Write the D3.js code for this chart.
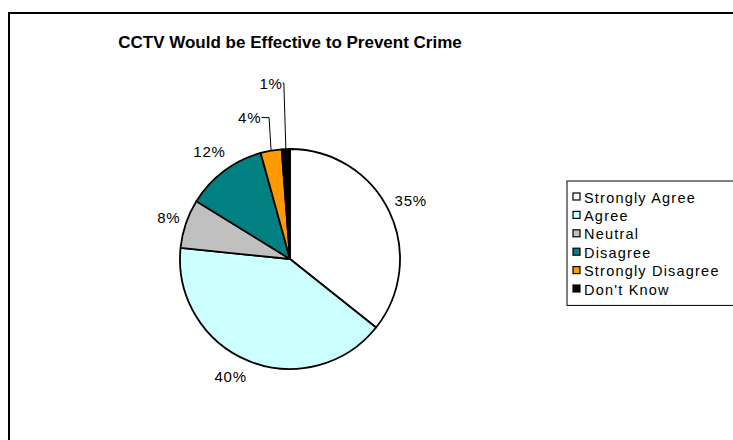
<!DOCTYPE html>
<html>
<head>
<meta charset="utf-8">
<script src="https://cdn.jsdelivr.net/npm/d3@7"></script>
<style>
  html, body { margin: 0; padding: 0; background: #fff; }
  svg { display: block; font-family: "Liberation Sans", Arial, sans-serif; }
</style>
</head>
<body>
<svg id="chart" width="733" height="440"></svg>
<script>
// ---- data ----
const title = "CCTV Would be Effective to Prevent Crime";
const categories = ["Strongly Agree", "Agree", "Neutral", "Disagree", "Strongly Disagree", "Don't Know"];
const values = [35.7, 40.9, 7.2, 11.9, 3.1, 1.2];
const valueLabels = ["35%", "40%", "8%", "12%", "4%", "1%"];
const colors = ["#FFFFFF", "#CCFFFF", "#C0C0C0", "#008080", "#FF9900", "#000000"];

// ---- layout ----
const W = 733, H = 440;
const cx = 290, cy = 259, R = 110;
const labelR = 134;
// per-slice label placement tweaks (radius, angular shift in degrees, leader line)
const labelOverride = {
  1: { r: 132, shift: 4.6 },
  2: { r: 128, shift: 0 },
  4: { r: 147, shift: -6, leader: true },
  5: { r: 177, shift: -4, leader: true }
};

const svg = d3.select("#chart");

// frame (left & top borders visible; continues beyond right edge)
svg.append("path")
  .attr("d", "M9,440 L9,13 L740,13")
  .attr("fill", "none").attr("stroke", "#000").attr("stroke-width", 2);

svg.append("text")
  .attr("x", 290).attr("y", 48)
  .attr("text-anchor", "middle")
  .attr("font-weight", "bold").attr("font-size", 17)
  .attr("fill", "#000")
  .text(title);

const data = categories.map((c, i) => ({ cat: c, value: values[i], label: valueLabels[i], color: colors[i], i }));

const pie = d3.pie().value(d => d.value).sort(null).startAngle(0).endAngle(2 * Math.PI);
const arcs = pie(data);
const arc = d3.arc().innerRadius(0).outerRadius(R);

const g = svg.append("g").attr("transform", `translate(${cx},${cy})`);
g.selectAll("path.slice").data(arcs).join("path")
  .attr("class", "slice")
  .attr("d", arc)
  .attr("fill", d => d.data.color)
  .attr("stroke", "#000").attr("stroke-width", 1.8)
  .attr("stroke-linejoin", "round");

// labels
const deg = Math.PI / 180;
arcs.forEach(a => {
  const mid = (a.startAngle + a.endAngle) / 2;
  const ov = labelOverride[a.data.i];
  const r = ov ? ov.r : labelR;
  const ang = mid + (ov ? ov.shift * deg : 0);
  const lx = r * Math.sin(ang), ly = -r * Math.cos(ang);
  const t = g.append("text")
    .attr("x", lx).attr("y", ly)
    .attr("text-anchor", "middle")
    .attr("dominant-baseline", "central")
    .attr("font-size", 15)
    .attr("letter-spacing", 0.8)
    .attr("fill", "#000")
    .text(a.data.label);
  if (ov && ov.leader) {
    const bb = t.node().getBBox();
    const ex = R * Math.sin(mid), ey = -R * Math.cos(mid);
    const x0 = bb.x + bb.width;
    const cornerX = ex - 2;
    g.append("path")
      .attr("d", `M${x0},${ly} L${cornerX},${ly} L${ex},${ey}`)
      .attr("fill", "none").attr("stroke", "#000").attr("stroke-width", 1);
  }
});

// legend
const lgX = 567, lgY = 181, lgW = 180, rowH = 18.4;
const lg = svg.append("g");
lg.append("rect")
  .attr("x", lgX).attr("y", lgY)
  .attr("width", lgW).attr("height", rowH * categories.length + 14)
  .attr("fill", "#fff").attr("stroke", "#000").attr("stroke-width", 1);
const rows = lg.selectAll("g.row").data(data).join("g")
  .attr("class", "row")
  .attr("transform", (d, i) => `translate(${lgX + 6},${lgY + 16 + i * rowH})`);
rows.append("rect")
  .attr("x", 0).attr("y", -4).attr("width", 7).attr("height", 7)
  .attr("fill", d => d.color).attr("stroke", "#000").attr("stroke-width", 1.2);
rows.append("text")
  .attr("x", 11).attr("y", 0.5)
  .attr("dominant-baseline", "central")
  .attr("font-size", 14.5)
  .attr("letter-spacing", 1.2)
  .attr("fill", "#000")
  .text(d => d.cat);
</script>
</body>
</html>
